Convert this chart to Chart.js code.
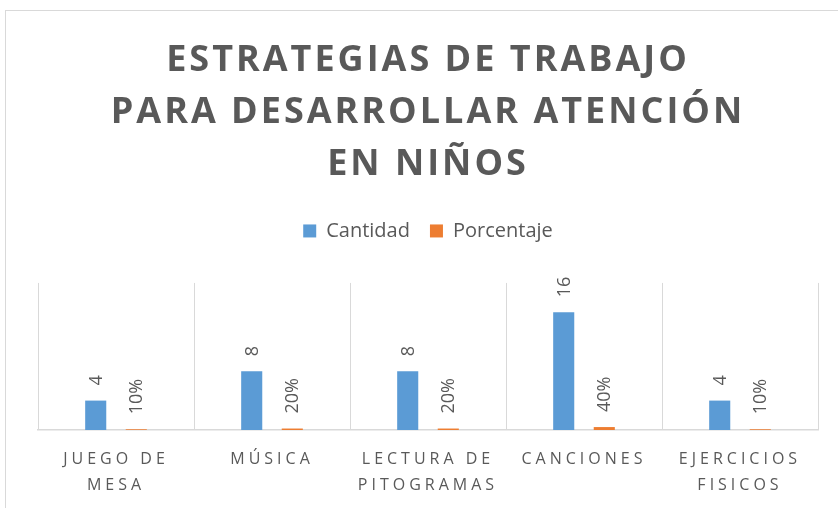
<!DOCTYPE html>
<html>
<head>
<meta charset="utf-8">
<script src="https://cdn.jsdelivr.net/npm/chart.js@4/dist/chart.umd.min.js"></script>
<style>
  html, body { margin: 0; padding: 0; background: #fff; overflow: hidden; }
  #frame {
    position: absolute; left: 5px; top: 10px;
    width: 860px; height: 530px;
    border: 1px solid #d9d9d9; background: #fff;
  }
</style>
</head>
<body>
<div id="frame"><canvas id="chart" width="838" height="515"></canvas></div>
<script>
const categories = [
  ["JUEGO DE", "MESA"],
  ["MÚSICA"],
  ["LECTURA DE", "PITOGRAMAS"],
  ["CANCIONES"],
  ["EJERCICIOS", "FISICOS"]
];
const cantidad = [4, 8, 8, 16, 4];
const porcentaje = [0.10, 0.20, 0.20, 0.40, 0.10];
const titleLines = ["ESTRATEGIAS DE TRABAJO", "PARA DESARROLLAR ATENCIÓN", "EN NIÑOS"];

const TEXT = "#595959";
const GRID = "#d9d9d9";

Chart.defaults.font.family = "'Open Sans', sans-serif";
Chart.defaults.color = TEXT;

// canvas letterSpacing for title and category labels
const spaced = (obj, key, sp) => {
  if (!obj || obj[key].__spaced) return;
  const orig = obj[key];
  const fn = function (...args) {
    const ctx = this.ctx;
    const prev = ctx.letterSpacing;
    ctx.letterSpacing = sp;
    orig.apply(this, args);
    ctx.letterSpacing = prev;
  };
  fn.__spaced = true;
  obj[key] = fn;
};

const layoutTweaks = {
  id: "layoutTweaks",
  beforeLayout(chart) {
    const legend = chart.legend;
    if (legend && !legend.fit.__extra) {
      const fit = legend.fit;
      legend.fit = function () {
        fit.call(this);
        this.height += 32;
      };
      legend.fit.__extra = true;
    }
  },
  beforeDraw(chart) {
    spaced(chart.titleBlock, "draw", "3px");
    spaced(chart.scales.x, "drawLabels", "4px");
  }
};

const valueLabels = {
  id: "valueLabels",
  afterDatasetsDraw(chart) {
    const ctx = chart.ctx;
    chart.data.datasets.forEach((ds, i) => {
      const meta = chart.getDatasetMeta(i);
      meta.data.forEach((bar, j) => {
        const v = ds.data[j];
        const text = i === 1 ? Math.round(v * 100) + "%" : String(v);
        ctx.save();
        ctx.translate(bar.x + 1, bar.y - 15);
        ctx.rotate(-Math.PI / 2);
        ctx.font = "18px 'Open Sans', sans-serif";
        ctx.fillStyle = TEXT;
        ctx.textAlign = "left";
        ctx.textBaseline = "middle";
        ctx.fillText(text, 0, 0);
        ctx.restore();
      });
    });
  }
};

const canvas = document.getElementById("chart");
new Chart(canvas.getContext("2d"), {
  type: "bar",
  data: {
    labels: categories,
    datasets: [
      {
        label: "Cantidad",
        data: cantidad,
        backgroundColor: "#5B9BD5",
        categoryPercentage: 0.52,
        barPercentage: 0.52
      },
      {
        label: "Porcentaje",
        data: porcentaje,
        backgroundColor: "#ED7D31",
        categoryPercentage: 0.52,
        barPercentage: 0.52
      }
    ]
  },
  options: {
    responsive: false,
    animation: false,
    layout: { padding: { left: 32, right: 26, top: 0, bottom: 12 } },
    plugins: {
      title: {
        display: true,
        text: titleLines,
        color: TEXT,
        font: { size: 36, weight: "bold", lineHeight: 1.444 },
        padding: { top: 24, bottom: 10 }
      },
      legend: {
        display: true,
        position: "top",
        labels: {
          color: TEXT,
          font: { size: 20 },
          boxWidth: 13,
          boxHeight: 13,
          padding: 20
        }
      },
      tooltip: { enabled: false }
    },
    scales: {
      x: {
        grid: { display: true, color: GRID, lineWidth: 1, offset: true, drawTicks: false },
        border: { display: true, color: GRID, width: 1.5 },
        ticks: {
          color: TEXT,
          font: { size: 16, lineHeight: 1.625 },
          padding: 16,
          maxRotation: 0,
          minRotation: 0,
          autoSkip: false
        }
      },
      y: {
        display: false,
        min: 0,
        max: 20
      }
    }
  },
  plugins: [layoutTweaks, valueLabels]
});
</script>
</body>
</html>
